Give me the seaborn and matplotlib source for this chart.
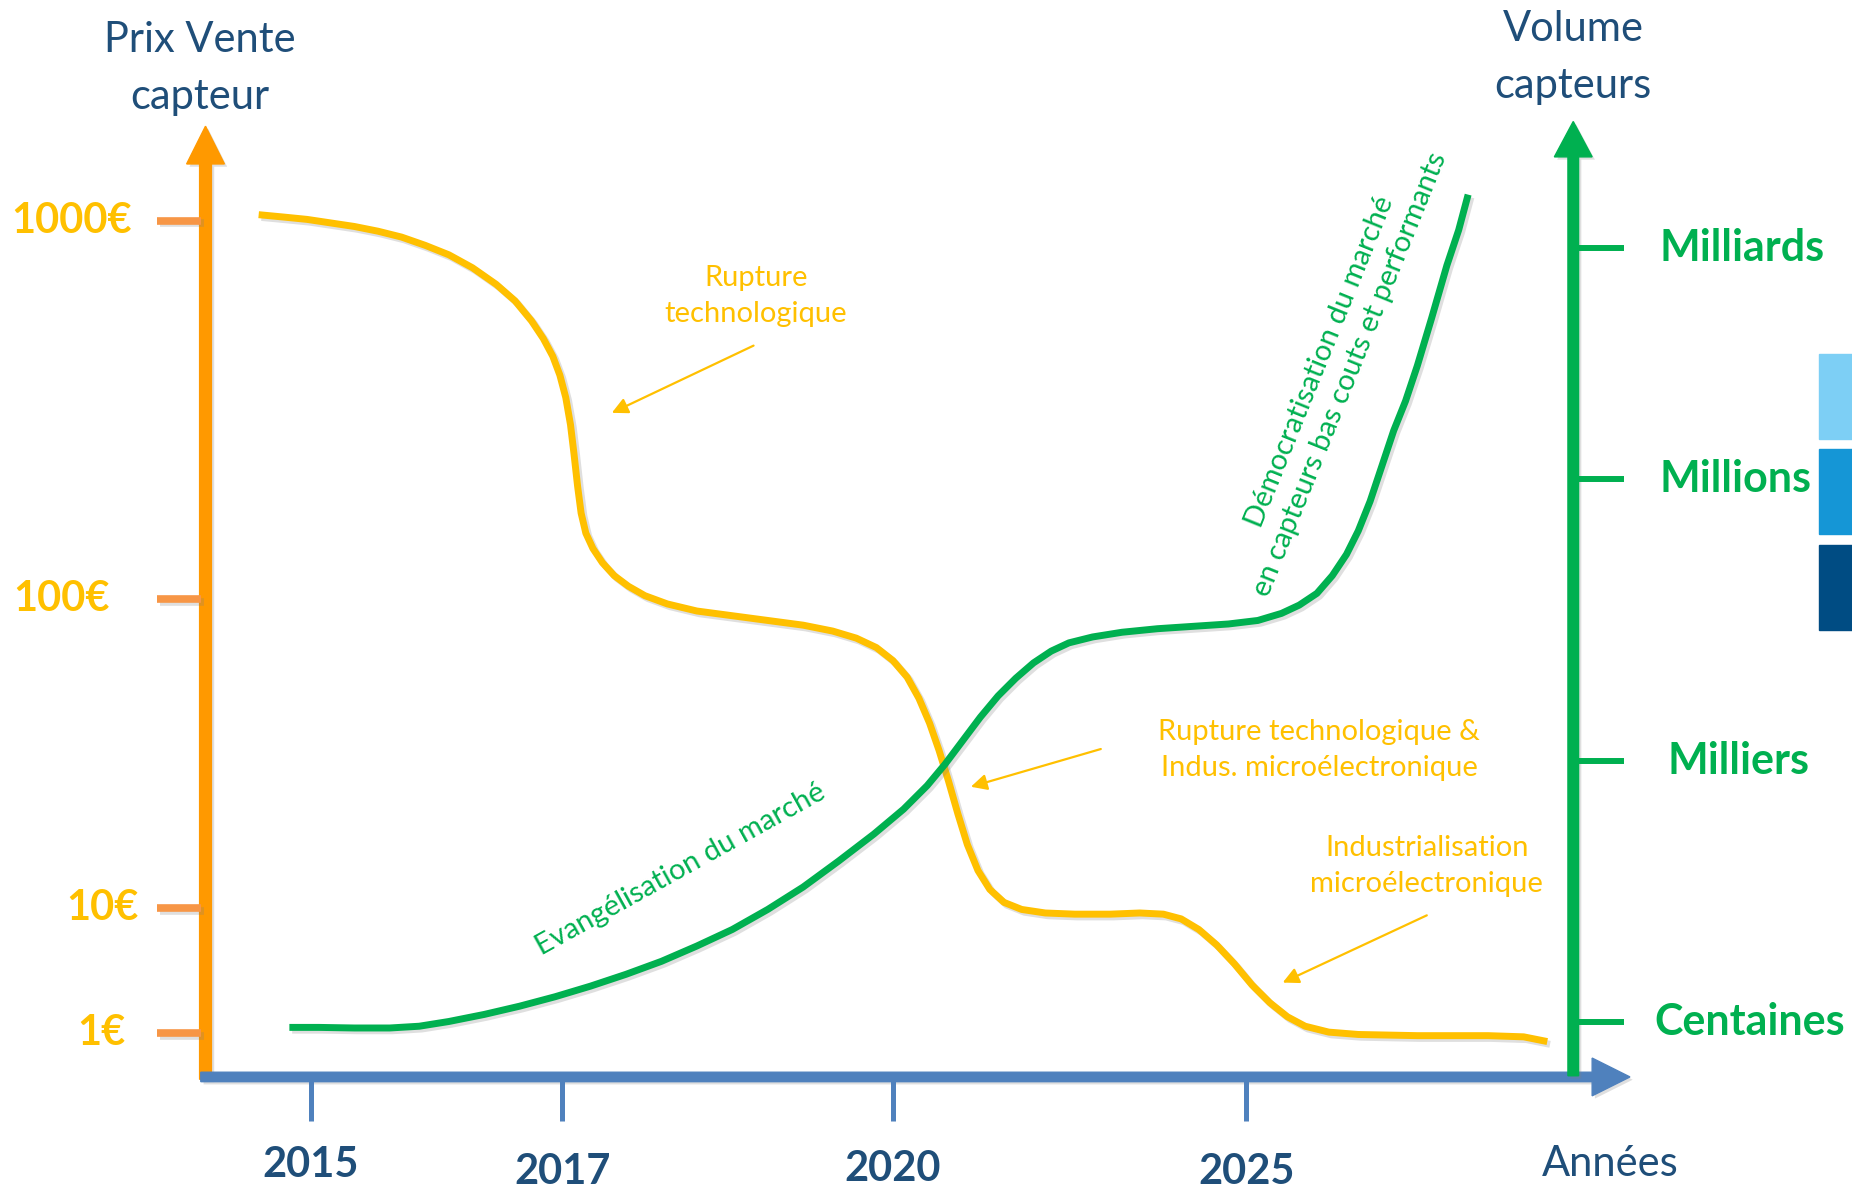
import matplotlib
matplotlib.use("Agg")
from matplotlib import pyplot as plt
import matplotlib.patheffects as pe
import matplotlib.patches as mpatches
import seaborn as sns

# --- data (canvas units, y grows downwards) ---
price_x = [219, 240, 260, 280, 300, 320, 340, 360, 380, 400, 420, 436, 450, 460, 468, 474,
           479, 483, 486, 489, 492, 496, 502, 510, 520, 532, 546, 565, 590, 620, 650, 680,
           705, 725, 742, 756, 768, 778, 787, 795, 803, 811, 819, 828, 838, 850, 865, 885,
           910, 940, 965, 985, 1000, 1015, 1030, 1045, 1060, 1075, 1090, 1105, 1125, 1150,
           1200, 1260, 1290, 1310]
price_y = [182, 184, 186, 189, 192, 196, 201, 208, 216, 227, 241, 255, 272, 287, 302, 318,
           337, 360, 385, 412, 435, 452, 465, 477, 488, 497, 505, 512, 518, 522, 526, 530,
           535, 541, 549, 560, 574, 592, 613, 636, 662, 690, 716, 738, 754, 765, 771, 774,
           775, 775, 774, 775, 779, 788, 801, 817, 835, 850, 862, 870, 875, 877,
           878, 878, 879, 883]

volume_x = [245, 270, 300, 330, 355, 380, 410, 440, 470, 500, 530, 560, 590, 620, 650, 680,
            710, 740, 765, 785, 800, 815, 830, 845, 860, 875, 890, 905, 925, 950, 980, 1010,
            1040, 1065, 1085, 1100, 1115, 1128, 1140, 1150, 1160, 1170, 1180, 1190, 1200,
            1212, 1225, 1235, 1243]
volume_y = [871, 871, 871.5, 871.5, 870, 866, 860, 853, 845, 836, 826, 815, 802, 788, 771,
            752, 730, 707, 686, 666, 648, 628, 608, 590, 575, 562, 552, 545, 540, 536, 533,
            531, 529, 526, 520, 513, 503, 488, 470, 450, 425, 395, 365, 340, 310, 270, 225,
            195, 165]

years = ["2015", "2017", "2020", "2025"]
year_pos = [263, 476, 756, 1055]
year_label_y = [988, 994, 991, 994]

price_labels = ["1000€", "100€", "10€", "1€"]
price_pos = [187, 508, 770, 876]
price_label_x = [61, 52, 87, 86]

volume_labels = ["Milliards", "Millions", "Milliers", "Centaines"]
volume_pos = [210, 406, 645, 866]
volume_label_x = [1475, 1469, 1472, 1481]

ORANGE = "#FF9900"
TICK_ORANGE = "#F79646"
YELLOW = "#FFC000"
BLUE = "#4F81BD"
NAVY = "#1F4E79"
GREEN = "#00B050"

sns.set_style("white")
plt.rcParams["font.family"] = ["Lato", "DejaVu Sans"]

shadow = [pe.SimpleLineShadow(offset=(2, -2), alpha=0.25, shadow_color="gray"), pe.Normal()]
pshadow = [pe.SimplePatchShadow(offset=(2, -2), alpha=0.25, shadow_rgbFace="gray"), pe.Normal()]

fig = plt.figure(figsize=(18.52, 11.89), dpi=100)
ax = fig.add_axes([0, 0, 1, 1])

# ticks of the three axes
ax.hlines(price_pos, 133, 170, colors=TICK_ORANGE, linewidth=5.5, path_effects=shadow)
ax.vlines(year_pos, 913, 950, colors=BLUE, linewidth=3.6)
ax.hlines(volume_pos, 1336, 1375, colors=GREEN, linewidth=4.3)

# axes with arrow heads
ax.add_patch(mpatches.FancyArrow(174, 915, 0, -808, width=10, head_width=32, head_length=32,
                                 length_includes_head=True, color=ORANGE, path_effects=pshadow))
ax.add_patch(mpatches.FancyArrow(170, 913, 1210, 0, width=8, head_width=32, head_length=32,
                                 length_includes_head=True, color=BLUE, path_effects=pshadow))
ax.add_patch(mpatches.FancyArrow(1332, 912, 0, -809, width=9, head_width=32, head_length=30,
                                 length_includes_head=True, color=GREEN, path_effects=pshadow))

# curves
sns.lineplot(x=price_x, y=price_y, ax=ax, color=YELLOW, linewidth=5, sort=False,
             estimator=None, solid_capstyle="butt", solid_joinstyle="round",
             path_effects=shadow)
sns.lineplot(x=volume_x, y=volume_y, ax=ax, color=GREEN, linewidth=5, sort=False,
             estimator=None, solid_capstyle="butt", solid_joinstyle="round",
             path_effects=shadow)
ax.set_xlim(0, 1568)
ax.set_ylim(1008, 0)
ax.axis("off")

# axis titles
ax.text(169, 58, "Prix Vente\ncapteur", ha="center", va="center", fontsize=30,
        color=NAVY, linespacing=1.6)
ax.text(1332, 49, "Volume\ncapteurs", ha="center", va="center", fontsize=30,
        color=NAVY, linespacing=1.6)
ax.text(1363, 987, "Années", ha="center", va="center", fontsize=30, color=NAVY)

for lab, x, y in zip(years, year_pos, year_label_y):
    ax.text(x, y, lab, ha="center", va="center", fontsize=30, fontweight="bold", color=NAVY)
for lab, x, y in zip(price_labels, price_label_x, price_pos):
    ax.text(x, y, lab, ha="center", va="center", fontsize=30, fontweight="bold", color=YELLOW)
for lab, x, y in zip(volume_labels, volume_label_x, volume_pos):
    ax.text(x, y, lab, ha="center", va="center", fontsize=31, fontweight="bold", color=GREEN)

# annotations
arrow = dict(arrowstyle="-|>", color=YELLOW, lw=1.6, mutation_scale=24, shrinkA=0, shrinkB=0)
ax.text(640, 251, "Rupture\ntechnologique", ha="center", va="center", fontsize=21,
        color=YELLOW, linespacing=1.48)
ax.annotate("", xy=(518, 350), xytext=(638, 293), arrowprops=arrow)
ax.text(1117, 636, "Rupture technologique &\nIndus. microélectronique", ha="center",
        va="center", fontsize=21, color=YELLOW, linespacing=1.48)
ax.annotate("", xy=(822, 667), xytext=(932, 635), arrowprops=arrow)
ax.text(1208, 734, "Industrialisation\nmicroélectronique", ha="center", va="center",
        fontsize=21, color=YELLOW, linespacing=1.48)
ax.annotate("", xy=(1086, 833), xytext=(1208, 776), arrowprops=arrow)

ax.text(576, 737, "Evangélisation du marché", ha="center", va="center", fontsize=21,
        color=GREEN, rotation=29, rotation_mode="anchor")
ax.text(1130, 312, "Démocratisation du marché\nen capteurs bas couts et performants",
        ha="center", va="center", fontsize=21, color=GREEN, rotation=68,
        rotation_mode="anchor", multialignment="center", linespacing=1.3)

# coloured blocks cut by the right edge
for y0, c in zip([300, 381, 462], ["#7DCFF5", "#1596D6", "#004C83"]):
    ax.add_patch(mpatches.Rectangle((1540, y0), 40, 72, color=c, clip_on=True))

fig.savefig("out.png", dpi=100)
